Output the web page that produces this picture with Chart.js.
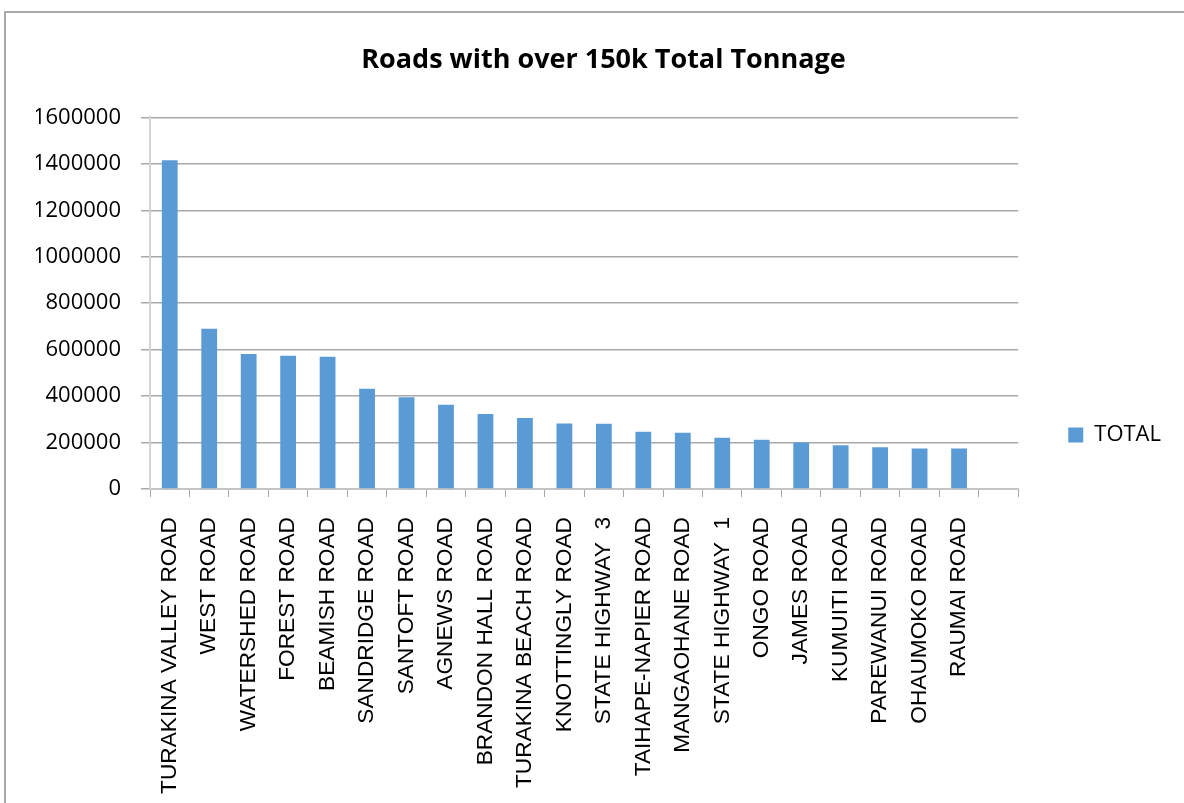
<!DOCTYPE html>
<html>
<head>
<meta charset="utf-8">
<title>Roads with over 150k Total Tonnage</title>
<script src="https://cdn.jsdelivr.net/npm/chart.js@4/dist/chart.umd.min.js"></script>
<style>
    html, body { margin: 0; padding: 0; background: #fff; overflow: hidden; width: 1184px; height: 803px; }
    #frame { position: absolute; left: 4px; top: 11px; width: 1300px; height: 900px; border-left: 2px solid #a9a9a9; border-top: 2px solid #a9a9a9; }
    #roadsChart { position: absolute; left: 0; top: 0; }
</style>
</head>
<body>
<div id="frame"></div>
<canvas id="roadsChart" width="1207" height="870"></canvas>
<script>
/*** Data ***/
const roads = [
    'TURAKINA VALLEY ROAD', 'WEST ROAD', 'WATERSHED ROAD', 'FOREST ROAD', 'BEAMISH ROAD',
    'SANDRIDGE ROAD', 'SANTOFT ROAD', 'AGNEWS ROAD', 'BRANDON HALL ROAD', 'TURAKINA BEACH ROAD',
    'KNOTTINGLY ROAD', 'STATE HIGHWAY  3', 'TAIHAPE-NAPIER ROAD', 'MANGAOHANE ROAD', 'STATE HIGHWAY  1',
    'ONGO ROAD', 'JAMES ROAD', 'KUMUITI ROAD', 'PAREWANUI ROAD', 'OHAUMOKO ROAD', 'RAUMAI ROAD', ''
];
const totals = [
    1415000, 690000, 581000, 574000, 569000,
    432000, 395000, 363000, 323000, 306000,
    282000, 281000, 246000, 242000, 221000,
    212000, 200000, 188000, 180000, 174000, 174000, null
];
const yTicks = [0, 200000, 400000, 600000, 800000, 1000000, 1200000, 1400000, 1600000];

/*** Chart ***/
const ctx = document.getElementById('roadsChart').getContext('2d');
const gridGray = '#a8a8a8';

new Chart(ctx, {
    type: 'bar',
    data: {
        labels: roads,
        datasets: [
            {
                label: 'TOTAL',
                data: totals,
                backgroundColor: '#5b9bd5',
                borderWidth: 0,
                barPercentage: 0.4,
                categoryPercentage: 1.0
            }
        ]
    },
    options: {
        responsive: false,
        animation: false,
        layout: {
            // left padding only nudges the centred title to the right
            padding: {top: 0, left: 36, right: 36, bottom: 0}
        },
        plugins: {
            title: {
                display: true,
                text: 'Roads with over 150k Total Tonnage',
                color: '#000',
                font: {family: 'Open Sans', size: 27, weight: 'bold'},
                padding: {top: 44, bottom: 41}
            },
            legend: {
                position: 'right',
                labels: {
                    boxWidth: 15,
                    boxHeight: 15,
                    padding: 50,
                    color: '#000',
                    font: {family: 'Open Sans', size: 22}
                }
            },
            tooltip: {enabled: false}
        },
        scales: {
            x: {
                afterFit: function (scale) { scale.height = 870 - 489; },
                grid: {
                    offset: true,
                    drawOnChartArea: false,
                    tickLength: 8,
                    color: gridGray
                },
                border: {color: '#c4c4c4', width: 2},
                ticks: {
                    autoSkip: false,
                    maxRotation: 90,
                    minRotation: 90,
                    padding: 20,
                    color: '#000',
                    font: {family: 'Liberation Sans', size: 22.7}
                }
            },
            y: {
                min: 0,
                max: 1600000,
                afterFit: function (scale) { scale.width = 150 - 36; },
                afterBuildTicks: function (scale) {
                    scale.ticks = yTicks.map(function (v) { return {value: v}; });
                },
                grid: {
                    tickLength: 9,
                    color: gridGray,
                    lineWidth: 1.5
                },
                border: {color: '#d4d4d4', width: 2},
                ticks: {
                    padding: 20,
                    color: '#000',
                    font: {family: 'Open Sans', size: 22},
                    callback: function (value) { return String(value); }
                }
            }
        }
    }
});
</script>
</body>
</html>
